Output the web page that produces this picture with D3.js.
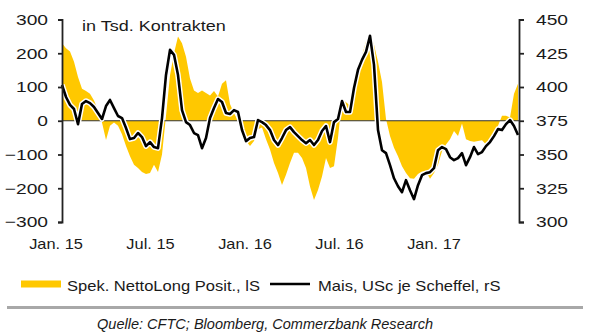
<!DOCTYPE html>
<html>
<head>
<meta charset="utf-8">
<script src="https://cdn.jsdelivr.net/npm/d3@7"></script>
<style>
  html, body { margin: 0; padding: 0; background: #fff; }
  svg { display: block; }
  text { font-family: "Liberation Sans", Arial, sans-serif; fill: #1a1a1a; }
</style>
</head>
<body>
<svg id="chart" width="590" height="333"></svg>
<script>
// Weekly observations starting with the first week of January 2015
const startWeek = "2015-01-06";

// Speculative net long positions, thousand contracts (left scale)
const netLong = [
  230, 215, 205, 175, 130, 95, 88, 80, 60, 32,
  -5, -57, -15, -5, -15, -40, -75, -105, -130, -140,
  -152, -158, -155, -130, -152, -100, 15, 135, 200, 250,
  230, 190, 125, 90, 82, 90, 82, 75, 88, 72,
  110, 120, 50, 22, 0, -45, -60, -75, -60, -25,
  -20, -55, -85, -125, -155, -190, -160, -125, -95, -95,
  -110, -140, -195, -235, -205, -165, -110, -140, -135, -50,
  65, 55, 45, 100, 159, 193, 235, 258, 225, 175,
  115, 5, -45, -80, -105, -135, -155, -170, -172, -158,
  -150, -150, -172, -155, -130, -90, -70, -55, -30, -45,
  -8, -55, -60, -62, -60, -58, -70, -60, -40, -15,
  15, 15, 10, 80, 110
];

// Corn price, US cents per bushel (right scale)
const maisPrice = [
  401.5, 392.6, 386.7, 383.7, 372.5, 387.4, 389.6, 388.1, 385.2, 380.7,
  376.3, 385.9, 390.4, 384.4, 378.5, 377.0, 369.6, 361.4, 362.2, 365.9,
  362.9, 356.2, 359.2, 355.5, 354.7, 377.0, 408.9, 427.5, 423.8, 408.9,
  382.9, 374.0, 371.8, 365.9, 364.4, 354.7, 362.2, 377.0, 384.4, 391.1,
  388.9, 380.7, 380.0, 382.9, 381.5, 368.1, 359.9, 362.2, 362.9, 375.5,
  374.0, 371.8, 368.1, 360.7, 357.0, 362.2, 368.1, 370.3, 366.6, 363.6,
  360.7, 358.4, 360.7, 357.0, 360.7, 367.4, 371.1, 359.2, 374.0, 376.3,
  389.6, 381.5, 381.5, 399.3, 412.7, 420.1, 426.0, 438.0, 416.4, 368.1,
  353.2, 351.0, 342.1, 332.4, 326.5, 322.1, 331.0, 323.5, 316.9, 327.3,
  334.7, 336.2, 336.9, 339.9, 353.2, 355.5, 354.0, 348.0, 345.8, 347.3,
  351.0, 342.1, 348.0, 355.5, 350.3, 351.8, 356.2, 359.2, 363.6, 368.8,
  368.1, 372.5, 375.5, 371.1, 364.4
];

const leftTicks = [300, 200, 100, 0, -100, -200, -300];
const rightTicks = [450, 425, 400, 375, 350, 325, 300];
const xTickLabels = ["Jan. 15", "Jul. 15", "Jan. 16", "Jul. 16", "Jan. 17"];

const unitNote = "in Tsd. Kontrakten";
const legendLabels = ["Spek. NettoLong Posit., lS", "Mais, USc je Scheffel, rS"];
const sourceNote = "Quelle: CFTC; Bloomberg, Commerzbank Research";

const YELLOW = "#FFC800";

const svg = d3.select("#chart");
const t0 = new Date(startWeek + "T00:00:00");
const rows = netLong.map((v, i) => ({
  date: d3.timeWeek.offset(t0, i),
  pos: v,
  price: maisPrice[i]
}));

const plotLeft = 62, plotRight = 519, plotTop = 19.5, plotBottom = 222;

const x = d3.scaleTime()
  .domain(d3.extent(rows, d => d.date))
  .range([plotLeft, plotRight - 1]);
const yL = d3.scaleLinear().domain([-300, 300]).range([plotBottom, plotTop]);
const yR = d3.scaleLinear().domain([300, 450]).range([plotBottom, plotTop]);

// widen glyphs horizontally to a given factor
function stretch(sel, k) {
  sel.each(function () {
    const w = this.getComputedTextLength();
    d3.select(this).attr("textLength", w * k).attr("lengthAdjust", "spacingAndGlyphs");
  });
}

// net long positions as a filled area around zero
svg.append("path")
  .datum(rows)
  .attr("fill", YELLOW)
  .attr("d", d3.area()
    .x(d => x(d.date))
    .y0(yL(0))
    .y1(d => yL(d.pos)));

// zero line
svg.append("line")
  .attr("x1", plotLeft).attr("x2", plotRight)
  .attr("y1", yL(0)).attr("y2", yL(0))
  .attr("stroke", "#333").attr("stroke-width", 1.1);

// corn price line with a thin white outline
const priceLine = d3.line().x(d => x(d.date)).y(d => yR(d.price));
svg.append("path").datum(rows)
  .attr("fill", "none").attr("stroke", "#fff").attr("stroke-width", 5.5)
  .attr("stroke-linejoin", "round").attr("d", priceLine);
svg.append("path").datum(rows)
  .attr("fill", "none").attr("stroke", "#000").attr("stroke-width", 2.6)
  .attr("stroke-linejoin", "round").attr("d", priceLine);

// left axis
const gL = svg.append("g")
  .attr("transform", `translate(${plotLeft},0)`)
  .call(d3.axisLeft(yL).tickValues(leftTicks).tickSize(4).tickPadding(10).tickFormat(d3.format("d")));
// right axis
const gR = svg.append("g")
  .attr("transform", `translate(${plotRight},0)`)
  .call(d3.axisRight(yR).tickValues(rightTicks).tickSize(5).tickPadding(12).tickFormat(d3.format("d")));

[gL, gR].forEach(g => {
  g.select(".domain").attr("stroke", "#222").attr("stroke-width", 1.8);
  g.selectAll(".tick line").attr("stroke", "#222").attr("stroke-width", 1.8);
  g.selectAll(".tick text")
    .attr("font-family", "Liberation Sans, Arial, sans-serif")
    .attr("font-size", 15).attr("fill", "#1a1a1a");
  g.selectAll(".tick text").call(stretch, 1.28);
});

// date labels
const xl = d3.scalePoint().domain(xTickLabels).range([55.5, 433.5]);
const gX = svg.append("g")
  .attr("transform", "translate(0,236)")
  .call(d3.axisBottom(xl).tickSize(0).tickPadding(3));
gX.select(".domain").remove();
gX.selectAll(".tick text")
  .attr("font-family", "Liberation Sans, Arial, sans-serif")
  .attr("font-size", 14.5).attr("fill", "#1a1a1a")
  .call(stretch, 1.13);

// unit note
svg.append("text")
  .attr("x", 82).attr("y", 31)
  .attr("font-size", 15)
  .text(unitNote)
  .call(stretch, 1.2);

// legend
svg.append("rect")
  .attr("x", 21).attr("y", 280.5).attr("width", 40).attr("height", 7)
  .attr("fill", YELLOW);
svg.append("text")
  .attr("x", 67).attr("y", 290.5).attr("font-size", 14.5)
  .text(legendLabels[0]).call(stretch, 1.14);
svg.append("line")
  .attr("x1", 270).attr("x2", 310).attr("y1", 284).attr("y2", 284)
  .attr("stroke", "#000").attr("stroke-width", 2.6);
svg.append("text")
  .attr("x", 318).attr("y", 290.5).attr("font-size", 14.5)
  .text(legendLabels[1]).call(stretch, 1.14);

// separator and source
svg.append("line")
  .attr("x1", 7).attr("x2", 583).attr("y1", 307.5).attr("y2", 307.5)
  .attr("stroke", "#a8a8a8").attr("stroke-width", 3);
const src = svg.append("text")
  .attr("x", 97).attr("y", 329)
  .attr("font-size", 14).attr("font-style", "italic").attr("fill", "#333")
  .text(sourceNote);
src.attr("textLength", 336).attr("lengthAdjust", "spacingAndGlyphs");
</script>
</body>
</html>
